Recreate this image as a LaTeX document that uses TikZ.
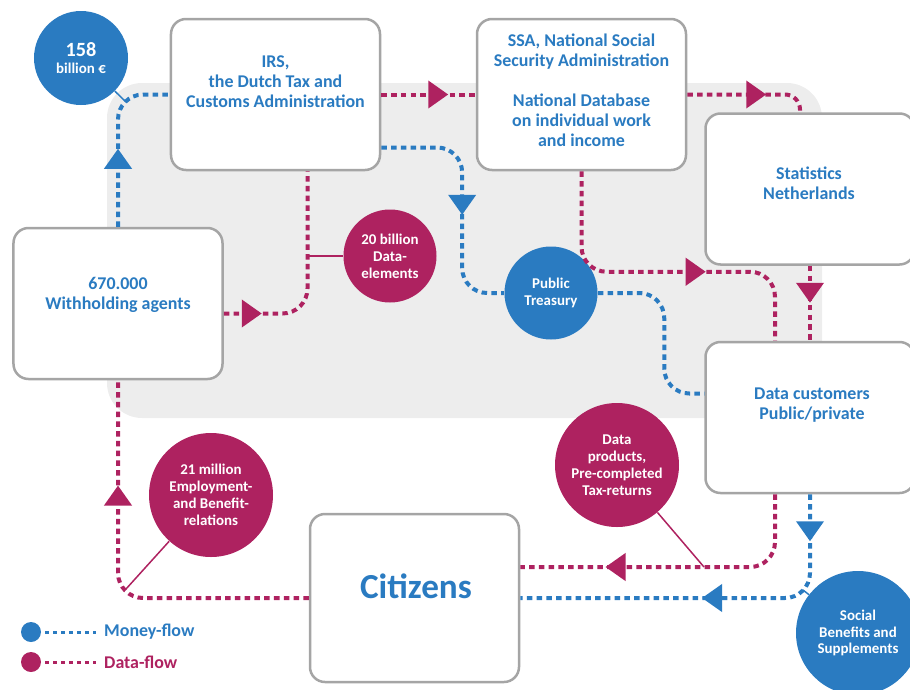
\documentclass[tikz,border=0pt]{standalone}
\usepackage{fontspec}
\setmainfont{Carlito}
\usepackage{tikz}
\usetikzlibrary{arrows,arrows.meta}
\usetikzlibrary{calc, decorations.markings}
\definecolor{moneyblue}{RGB}{42,123,193}
\definecolor{datared}{RGB}{174,34,96}
\definecolor{randgrau}{RGB}{165,165,165}
\colorlet{panel-lighter}{black!7}
\newcommand{\bubble}[5]{
    % #1 = name
    % #2 = position
    % #3 = diameter
    % #4 = colour
    % #5 = text
    \node[bubble, fill=#4, minimum size=#3] (#1) at (#2) {#5};
}

\begin{document}
\begin{tikzpicture}[x=0.2mm, y=-0.2mm,
    box/.style={draw=randgrau, line width=0.5mm, fill=white, rounded corners=3mm,
        minimum width=41.8mm, minimum height=30.2mm},
    boxtext/.style={text=moneyblue, align=center, font=\bfseries\fontsize{10.2pt}{11.4pt}\selectfont},
    bubble/.style={circle, inner sep=0pt, text=white, align=center,
        font=\bfseries\fontsize{8.5pt}{9.6pt}\selectfont},
    flow/.style={line width=0.8mm, dash pattern=on 1.1mm off 0.85mm, rounded corners=5mm},
    money/.style={flow, moneyblue},
    data/.style={flow, datared},
    arrowat/.style={postaction={decorate, decoration={markings,
        mark=at position #1 with {\arrow{Triangle[width=5.4mm, length=4mm]}}}}},
    tie/.style={line width=0.3mm},
    keytext/.style={right, font=\bfseries\fontsize{10.2pt}{12pt}\selectfont}
]

    \useasboundingbox (0,0) rectangle (910,689);

    \draw[fill=panel-lighter, draw=none, rounded corners=7mm] (107,83) rectangle (822,418);

    \node[box] (irs) at (275.5,94.5) {};
    \node[box] (ssa) at (581.5,94.5) {};
    \node[box] (stats) at (810,189) {};
    \node[box] (agents) at (118,303.5) {};
    \node[box] (customers) at (810,417.5) {};
    \node[box, minimum height=33.6mm] (citizens) at (414.5,598) {};

    \node[boxtext] (irs-text) at (275.5,82) {IRS,\\the Dutch Tax and\\Customs Administration};
    \node[boxtext] (ssa-text) at (581.5,90) {SSA, National Social\\Security Administration\\[11.4pt]National Database\\on individual work\\and income};
    \node[boxtext] (stats-text) at (809,183) {Statistics\\Netherlands};
    \node[boxtext] (agents-text) at (118,295) {670.000\\Withholding agents};
    \node[boxtext] (customers-text) at (812,405) {Data customers\\Public/private};
    \node[boxtext, font=\bfseries\fontsize{20pt}{24pt}\selectfont] (citizens-text) at (416,586) {Citizens};

    %
    %
    %

    \bubble{billions}{81,58}{18.8mm}{moneyblue}{{\fontsize{11.5pt}{13pt}\selectfont 158}\\billion €}

    \bubble{elements}{390,256}{18.6mm}{datared}{20 billion\\Data-\\elements}

    \bubble{treasury}{551,293}{18.6mm}{moneyblue}{Public\\Treasury}

    \bubble{relations}{211,495}{24.8mm}{datared}{21 million\\Employment-\\and Benefit-\\relations}

    \bubble{products}{617,465}{24.8mm}{datared}{Data\\products,\\Pre-completed\\Tax-returns}

    \bubble{benefits}{858,633}{24.8mm}{moneyblue}{Social\\Benefits and\\Supplements}

    %
    %
    %

    \draw[money, arrowat=15.6mm] (agents.north) |- (irs.west);
    \draw[data, arrowat=13.4mm] (irs.east) -- (ssa.west);
    \draw[data, rounded corners=3mm, arrowat=15.8mm] (ssa.east) -| ($(stats.north)+(-10,0)$);
    \draw[money, arrowat=27.5mm] ($(irs.east)+(0,53)$) -| ($(treasury.west)+(-42,0)$) -- (treasury.west);
    \draw[data, arrowat=7.6mm] ($(agents.east)+(0,10)$) -| ($(irs.south)+(32,0)$);
    \draw[money] (treasury.east) -| ($(customers.west)+(-40,-24)$) -- ($(customers.west)+(0,-24)$);
    \draw[data, arrowat=42.8mm] (ssa.south) |- ($(customers.north)+(-35,-69)$) -- ($(customers.north)+(-35,0)$);
    \draw[data, arrowat=7.4mm] (stats.south) -- (customers.north);
    \draw[data, arrowat=46.3mm] ($(customers.south)+(-35,0)$) |- ($(citizens.east)+(0,-31)$);
    \draw[money, arrowat=9.4mm, arrowat=40.2mm] (customers.south) |- (citizens.east);
    \draw[data, arrowat=58.5mm] (citizens.west) -| (agents.south);

    %
    %
    %

    \coordinate (billions-tie) at (126,102);
    \draw[tie, moneyblue] (billions) -- (billions-tie);
    \coordinate (elements-tie) at (307,256);
    \draw[tie, datared] (elements-tie) -- (elements);
    \coordinate (relations-tie) at (126,589);
    \draw[tie, datared] (relations) -- (relations-tie);
    \coordinate (products-tie) at (704,567);
    \draw[tie, datared] (products) -- (products-tie);
    \coordinate (benefits-tie) at (803,590);
    \draw[tie, moneyblue] (benefits) -- (benefits-tie);

    % legend
    \node[circle, fill=moneyblue, minimum size=4mm, inner sep=0pt] (money-dot) at (31,632) {};
    \node[keytext, text=moneyblue] (money-key) at (98,632) {Money-flow};
    \draw[money, line width=0.6mm, dash pattern=on 0.8mm off 0.8mm, shorten <=0.8mm, shorten >=0.4mm] (money-dot) -- (money-key);

    \node[circle, fill=datared, minimum size=4mm, inner sep=0pt] (data-dot) at (31,662) {};
    \node[keytext, text=datared] (data-key) at (98,662) {Data-flow};
    \draw[data, line width=0.6mm, dash pattern=on 0.8mm off 0.8mm, shorten <=0.8mm, shorten >=0.4mm] (data-dot) -- (data-key);

\end{tikzpicture}
\end{document}
